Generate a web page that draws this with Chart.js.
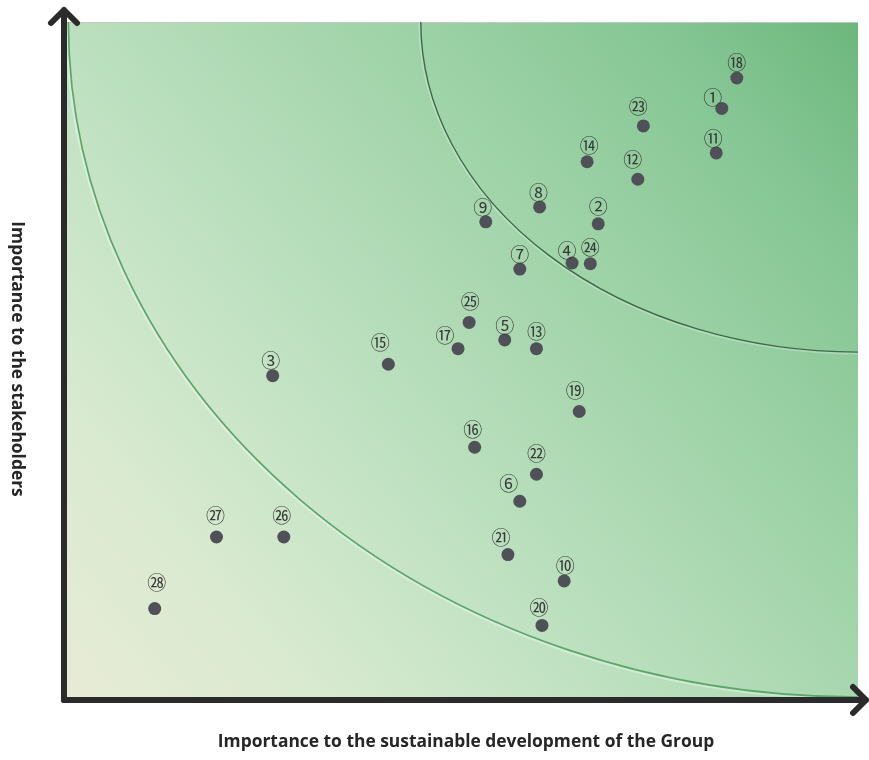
<!DOCTYPE html>
<html>
<head>
<meta charset="utf-8">
<title>Materiality matrix</title>
<script src="https://cdn.jsdelivr.net/npm/chart.js@4.4.1/dist/chart.umd.min.js"></script>
<style>
  html, body { margin: 0; padding: 0; background: #ffffff; }
  #wrap { width: 869px; height: 760px; position: relative; }
</style>
</head>
<body>
<div id="wrap"><canvas id="matrix"></canvas></div>
<script>
// Issue numbers (1-28)
const issueIds = [1, 2, 3, 4, 5, 6, 7, 8, 9, 10, 11, 12, 13, 14, 15, 16, 17, 18, 19, 20, 21, 22, 23, 24, 25, 26, 27, 28];

// Importance to the sustainable development of the Group (0-100)
const groupImportance = [82.8, 67.2, 26.1, 63.9, 55.4, 57.3, 57.3, 59.8, 53.0, 62.9,
                         82.1, 72.2, 59.4, 65.8, 40.7, 51.6, 49.5, 84.7, 64.8, 60.1,
                         55.8, 59.4, 72.9, 66.2, 50.9, 27.5, 19.0, 11.2];

// Importance to the stakeholders (0-100)
const stakeholderImportance = [87.2, 70.1, 47.6, 64.3, 52.9, 29.0, 63.4, 72.6, 70.4, 17.2,
                               80.6, 76.7, 51.6, 79.3, 49.3, 37.0, 51.6, 91.7, 42.3, 10.6,
                               21.1, 33.0, 84.6, 64.2, 55.5, 23.7, 23.7, 13.1];

// Priority zone boundaries: quarter ellipses around the top-right corner (axis units)
const zoneRadiusX = [55.2, 99.7];
const zoneRadiusY = [48.9, 100];

const xTitle = 'Importance to the sustainable development of the Group';
const yTitle = 'Importance to the stakeholders';

// Label placement relative to each dot, in pixels [dx, dy]
const labelNudge = [[-9,-11],[0,-17],[-2,-15],[-5,-12],[0,-14],[-11,-17],[0,-14],[-1,-14],[-3,-14],[1,-15],
                    [-3,-14],[-5,-19],[0,-17],[2,-16],[-8,-21],[-2,-17],[-13,-13],[0,-15],[-4,-21],[-3,-18],
                    [-7,-17],[0,-20],[-5,-19],[0,-16],[1,-21],[-2,-21],[-1,-21],[2,-26]];

function circled(n) {
  return String.fromCodePoint(n <= 20 ? 0x2460 + n - 1 : 0x3251 + n - 21);
}

const points = issueIds.map((id, i) => ({ x: groupImportance[i], y: stakeholderImportance[i], id }));

// Gradient backdrop and the two zone arcs
const backdrop = {
  id: 'backdrop',
  beforeDatasetsDraw(chart) {
    const { ctx, chartArea: a, scales: { x, y } } = chart;
    ctx.save();
    const g = ctx.createLinearGradient(a.left, a.bottom, a.right, a.top);
    g.addColorStop(0.00, '#e8ebd6');
    g.addColorStop(0.18, '#d9ead0');
    g.addColorStop(0.38, '#c0e2c2');
    g.addColorStop(0.52, '#afdab4');
    g.addColorStop(0.70, '#99d0a3');
    g.addColorStop(0.86, '#84c593');
    g.addColorStop(1.00, '#6cb77c');
    ctx.fillStyle = g;
    ctx.fillRect(a.left, a.top, a.right - a.left, a.bottom - a.top);

    ctx.strokeStyle = 'rgba(200,200,200,0.9)';
    ctx.lineWidth = 1;
    ctx.beginPath();
    ctx.moveTo(a.left, a.top + 0.5);
    ctx.lineTo(a.right, a.top + 0.5);
    ctx.stroke();

    ctx.beginPath();
    ctx.rect(a.left, a.top, a.right - a.left, a.bottom - a.top);
    ctx.clip();
    const cx = x.getPixelForValue(100), cy = y.getPixelForValue(100);
    zoneRadiusX.forEach((rxv, i) => {
      const rx = cx - x.getPixelForValue(100 - rxv);
      const ry = y.getPixelForValue(100 - zoneRadiusY[i]) - cy;
      const styles = i === 0
        ? [['rgba(255,255,255,0.25)', 3, 1], ['#3a6a46', 1.4, 0]]
        : [['rgba(255,255,255,0.35)', 3.5, 1.2], ['#5aa66b', 1.7, 0]];
      styles.forEach(([col, w, off]) => {
        ctx.strokeStyle = col;
        ctx.lineWidth = w;
        ctx.beginPath();
        ctx.ellipse(cx, cy, rx + off, ry + off, 0, Math.PI / 2, Math.PI);
        ctx.stroke();
      });
    });
    ctx.restore();
  }
};

// Circled issue numbers above the dots
const issueLabels = {
  id: 'issueLabels',
  afterDatasetsDraw(chart) {
    const { ctx } = chart;
    const meta = chart.getDatasetMeta(0);
    ctx.save();
    ctx.font = '19px "Noto Sans CJK SC", "DejaVu Sans", sans-serif';
    ctx.fillStyle = '#383838';
    ctx.textAlign = 'center';
    ctx.textBaseline = 'middle';
    meta.data.forEach((el, i) => {
      const [dx, dy] = labelNudge[i];
      ctx.fillText(circled(points[i].id), el.x + dx, el.y + dy);
    });
    ctx.restore();
  }
};

// Arrowed axes and axis titles
const arrowAxes = {
  id: 'arrowAxes',
  afterDraw(chart) {
    const { ctx, chartArea: a, width } = chart;
    ctx.save();
    ctx.strokeStyle = '#2b2b2b';
    ctx.lineWidth = 6;
    ctx.lineCap = 'round';
    ctx.lineJoin = 'round';
    const ox = a.left - 2, oy = a.bottom + 3;
    ctx.beginPath();
    ctx.moveTo(ox, oy);
    ctx.lineTo(ox, 10);
    ctx.moveTo(ox - 13, 23);
    ctx.lineTo(ox, 10);
    ctx.lineTo(ox + 13, 23);
    ctx.stroke();
    ctx.beginPath();
    ctx.moveTo(ox, oy);
    ctx.lineTo(width - 3, oy);
    ctx.moveTo(width - 16, oy - 13);
    ctx.lineTo(width - 3, oy);
    ctx.lineTo(width - 16, oy + 13);
    ctx.stroke();

    ctx.fillStyle = '#262626';
    ctx.font = 'bold 17.4px "Open Sans", Lato, sans-serif';
    ctx.textAlign = 'center';
    ctx.textBaseline = 'middle';
    ctx.fillText(xTitle, 466, 742);
    ctx.translate(17, 359);
    ctx.rotate(Math.PI / 2);
    ctx.fillText(yTitle, 0, 0);
    ctx.restore();
  }
};

new Chart(document.getElementById('matrix'), {
  type: 'scatter',
  data: {
    datasets: [{
      label: 'Material issues',
      data: points,
      pointRadius: 6.5,
      pointHoverRadius: 6.5,
      pointBackgroundColor: '#505058',
      pointBorderWidth: 0
    }]
  },
  options: {
    responsive: true,
    maintainAspectRatio: false,
    devicePixelRatio: 1,
    animation: false,
    layout: { padding: { left: 66, top: 22, right: 11, bottom: 63 } },
    scales: {
      x: { type: 'linear', min: 0, max: 100, display: false },
      y: { type: 'linear', min: 0, max: 100, display: false }
    },
    plugins: {
      legend: { display: false },
      tooltip: { enabled: false }
    }
  },
  plugins: [backdrop, issueLabels, arrowAxes]
});
</script>
</body>
</html>
